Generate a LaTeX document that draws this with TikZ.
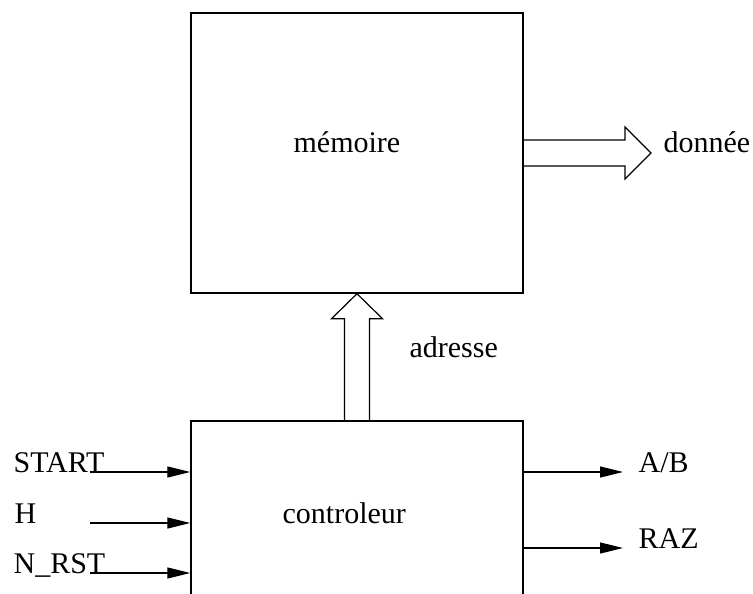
\documentclass[tikz,border=0pt]{standalone}
\usepackage{fontspec}
\setmainfont{Liberation Serif}
\usetikzlibrary{arrows.meta,calc}
\begin{document}
\begin{tikzpicture}[x=1pt,y=-1pt,
  line width=1.2pt,
  every node/.style={inner sep=0pt, font=\fontsize{30}{36}\selectfont},
  blockbox/.style={draw, rectangle, line width=1.4pt},
  sig/.style={-{Triangle[length=23pt,width=11pt]}},
  lbl/.style={anchor=base west}]
  \useasboundingbox (0,0) rectangle (753,594);
  \clip (0,0) rectangle (753,594);

  % boxes
  \node[blockbox, minimum width=332pt, minimum height=280pt] (mem) at (357,153) {};
  \node[blockbox, minimum width=332pt, minimum height=240pt] (ctrl) at (357,541) {};
  \node[lbl] (memtxt) at (293,153) {mémoire};
  \node[lbl] (ctrltxt) at (282,523) {controleur};

  % address bus (hollow arrow pointing up)
  \draw[line width=1.2pt]
    ($(ctrl.north)+(-12.5,0)$) -- ($(mem.south)+(-12.5,25)$)
    -- ($(mem.south)+(-25.5,25)$) -- (mem.south)
    -- ($(mem.south)+(25.5,25)$) -- ($(mem.south)+(12.5,25)$)
    -- ($(ctrl.north)+(12.5,0)$);
  \node[lbl] (adr) at (409,357) {adresse};

  % data bus (hollow arrow pointing right)
  \coordinate (dtip) at (651,153);
  \draw[line width=1.2pt]
    ($(mem.east)+(0,-13)$) -- (625,140) -- (625,127) -- (dtip)
    -- (625,179) -- (625,166) -- ($(mem.east)+(0,13)$);
  \node[lbl] (don) at (663,153) {donnée};

  % inputs
  \coordinate (iS) at (90,472);
  \coordinate (iH) at (90,523);
  \coordinate (iN) at (90,573);
  \node[lbl] (tS) at (13,472) {START};
  \node[lbl] (tH) at (14,523) {H};
  \node[lbl] (tN) at (13,573) {N\_RST};
  \draw[sig] (iS) -- (iS -| ctrl.west);
  \draw[sig] (iH) -- (iH -| ctrl.west);
  \draw[sig] (iN) -- (iN -| ctrl.west);

  % outputs
  \coordinate (oA) at (623,472);
  \coordinate (oR) at (623,548);
  \draw[sig] (oA -| ctrl.east) -- (oA);
  \draw[sig] (oR -| ctrl.east) -- (oR);
  \node[lbl] (tA) at (638,472) {A/B};
  \node[lbl] (tR) at (638,548) {RAZ};
\end{tikzpicture}
\end{document}
